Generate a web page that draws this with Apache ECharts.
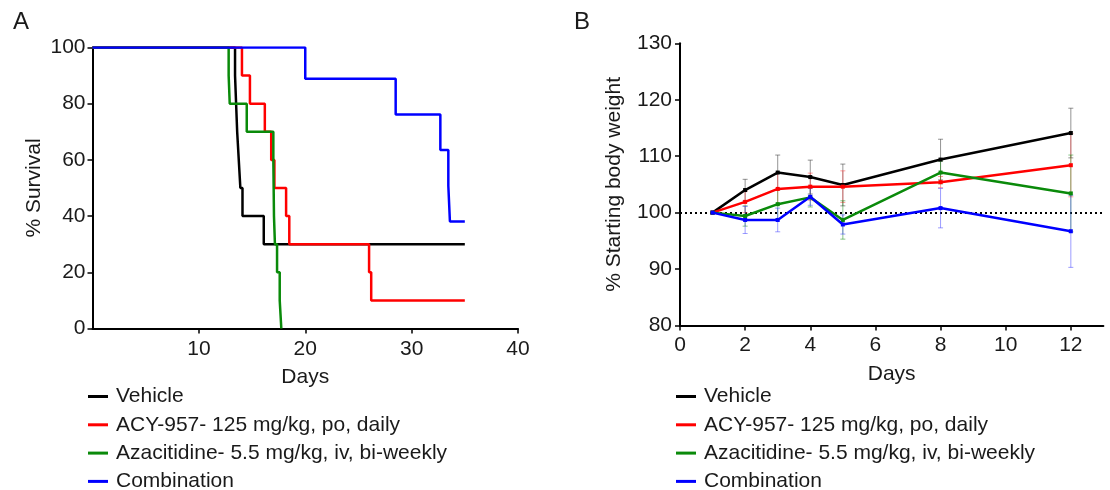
<!DOCTYPE html>
<html>
<head>
<meta charset="utf-8">
<script src="https://cdn.jsdelivr.net/npm/echarts@6/dist/echarts.min.js"></script>
<style>
html,body{margin:0;padding:0;background:#fff;}
#chart{width:1110px;height:490px;}
</style>
</head>
<body>
<div id="chart"></div>
<script>
// ---------- Data ----------
var groupNames = ['Vehicle', 'ACY-957- 125 mg/kg, po, daily', 'Azacitidine- 5.5 mg/kg, iv, bi-weekly', 'Combination'];
var groupColors = ['#000000', '#ff0000', '#0a8a0a', '#0000ff'];
var errColors = ['rgba(60,60,60,0.55)', 'rgba(255,60,60,0.5)', 'rgba(20,140,20,0.5)', 'rgba(60,60,255,0.5)'];

// Panel A: Kaplan-Meier survival [day, % survival]
var survVehicle = [[0,100],[13.4,90],[13.5,80],[13.6,70],[13.75,60],[13.9,50],[14.1,40],[16.1,30],[35,30]];
var survACY = [[0,100],[14.05,90],[14.8,80],[16.2,70],[16.8,60],[17.1,50],[18.2,40],[18.5,30],[26.0,20],[26.2,10],[35,10]];
var survAza = [[0,100],[12.8,90],[12.9,80],[14.5,70],[17.0,60],[17.03,50],[17.06,40],[17.15,30],[17.35,20],[17.6,10],[17.75,0]];
var survCombo = [[0,100],[20.0,88.9],[28.5,76.2],[32.7,63.5],[33.45,50.8],[33.6,38.1],[35,38.1]];
var xTicksA = [10, 20, 30, 40];

// Panel B: % starting body weight (mean, sd)
var weightDays = [1, 2, 3, 4, 5, 8, 12];
var wVehicle = [100, 104.0, 107.1, 106.3, 104.9, 109.4, 114.1];
var sdVehicle = [0, 1.9, 3.1, 3.0, 3.7, 3.6, 4.4];
var wACY = [100, 101.9, 104.2, 104.6, 104.6, 105.4, 108.4];
var sdACY = [0, 1.9, 2.8, 2.4, 2.8, 1.0, 5.6];
var wAza = [100, 99.4, 101.5, 102.7, 98.7, 107.1, 103.4];
var sdAza = [0, 1.8, 2.6, 1.7, 3.4, 2.0, 6.8];
var wCombo = [100, 98.7, 98.7, 102.8, 97.9, 100.8, 96.7];
var sdCombo = [0, 2.4, 2.1, 1.5, 1.7, 3.5, 6.4];
var xTicksB = [0, 2, 4, 6, 8, 10, 12];

// ---------- Build ----------
var survAll = [survVehicle, survACY, survAza, survCombo];
var wAll = [wVehicle, wACY, wAza, wCombo];
var sdAll = [sdVehicle, sdACY, sdAza, sdCombo];

var FONT = '"Liberation Sans", Arial, sans-serif';
var TXT = '#1a1a1a';
var FS = 21;

function axisCommon() {
  return {
    axisLine: { show: true, onZero: false, lineStyle: { color: '#000', width: 2 } },
    axisTick: { show: true, inside: false, length: 5, lineStyle: { color: '#000', width: 1.5 } },
    splitLine: { show: false },
    axisLabel: { color: TXT, fontSize: FS, fontFamily: FONT },
    nameTextStyle: { color: TXT, fontSize: FS, fontFamily: FONT }
  };
}

var series = [];
survAll.forEach(function (d, i) {
  series.push({
    type: 'line', name: groupNames[i], xAxisIndex: 0, yAxisIndex: 0,
    data: d, step: 'end', showSymbol: false, color: groupColors[i],
    lineStyle: { width: 2.5, color: groupColors[i] }, z: 3 + i
  });
});

wAll.forEach(function (w, i) {
  var errData = weightDays.map(function (x, k) { return [x, w[k] - sdAll[i][k], w[k] + sdAll[i][k]]; });
  series.push({
    type: 'custom', xAxisIndex: 1, yAxisIndex: 1, z: 2, silent: true,
    encode: { x: 0, y: [1, 2] },
    data: errData,
    renderItem: (function (col) {
      return function (params, api) {
        var x = api.value(0);
        var top = api.coord([x, api.value(2)]);
        var bot = api.coord([x, api.value(1)]);
        var c = 2.5;
        var st = { stroke: col, lineWidth: 1 };
        return {
          type: 'group', children: [
            { type: 'line', shape: { x1: top[0], y1: top[1], x2: bot[0], y2: bot[1] }, style: st },
            { type: 'line', shape: { x1: top[0] - c, y1: top[1], x2: top[0] + c, y2: top[1] }, style: st },
            { type: 'line', shape: { x1: bot[0] - c, y1: bot[1], x2: bot[0] + c, y2: bot[1] }, style: st }
          ]
        };
      };
    })(errColors[i])
  });
});

wAll.forEach(function (w, i) {
  var s = {
    type: 'line', name: groupNames[i], xAxisIndex: 1, yAxisIndex: 1,
    data: weightDays.map(function (x, k) { return [x, w[k]]; }),
    symbol: 'rect', symbolSize: 4, showSymbol: true, color: groupColors[i],
    itemStyle: { color: groupColors[i] },
    lineStyle: { width: 2.5, color: groupColors[i] }, z: 5 + i
  };
  if (i === 0) {
    s.markLine = {
      silent: true, symbol: 'none', label: { show: false }, z: 1,
      lineStyle: { type: [2, 3], color: '#000', width: 2 },
      data: [{ yAxis: 100 }]
    };
  }
  series.push(s);
});

function legendAt(left) {
  return {
    orient: 'vertical', left: left, top: 381, height: 140, icon: 'rect',
    itemWidth: 20, itemHeight: 3, itemGap: 7.3,
    textStyle: { color: TXT, fontSize: FS, fontFamily: FONT, lineHeight: 21, padding: [0, 0, 0, 3] },
    data: groupNames, selectedMode: false
  };
}

var xA = axisCommon();
Object.assign(xA, {
  type: 'value', gridIndex: 0, min: 0, max: 40, interval: 10,
  name: 'Days', nameLocation: 'middle', nameGap: 38
});
xA.axisLabel = Object.assign({}, xA.axisLabel, { margin: 10, customValues: xTicksA });
xA.axisTick = Object.assign({}, xA.axisTick, { customValues: xTicksA });

var yA = axisCommon();
Object.assign(yA, {
  type: 'value', gridIndex: 0, min: 0, max: 100, interval: 20,
  name: '% Survival', nameLocation: 'middle', nameGap: 48, nameRotate: 90
});
yA.axisLabel = Object.assign({}, yA.axisLabel, { margin: 7 });

var xB = axisCommon();
Object.assign(xB, {
  type: 'value', gridIndex: 1, min: 0, max: 13, interval: 1,
  name: 'Days', nameLocation: 'middle', nameGap: 38
});
xB.axisLabel = Object.assign({}, xB.axisLabel, { margin: 9, customValues: xTicksB });
xB.axisTick = Object.assign({}, xB.axisTick, { customValues: xTicksB });

var yB = axisCommon();
Object.assign(yB, {
  type: 'value', gridIndex: 1, min: 80, max: 130, interval: 10,
  name: '% Starting body weight', nameLocation: 'middle', nameGap: 55, nameRotate: 90
});
yB.axisLabel = Object.assign({}, yB.axisLabel, { margin: 8 });

var option = {
  animation: false,
  backgroundColor: '#fff',
  textStyle: { fontFamily: FONT },
  grid: [
    { left: 92.5, top: 47.5, width: 425.5, height: 281, containLabel: false },
    { left: 680, top: 43.3, width: 423.4, height: 282.2, containLabel: false }
  ],
  xAxis: [xA, xB],
  yAxis: [yA, yB],
  legend: [legendAt(83), legendAt(671)],
  graphic: [
    { type: 'text', left: 13, top: 10, style: { text: 'A', fontSize: 24, fill: TXT, fontFamily: FONT } },
    { type: 'text', left: 574, top: 10, style: { text: 'B', fontSize: 24, fill: TXT, fontFamily: FONT } }
  ],
  series: series
};

var chart = echarts.init(document.getElementById('chart'), null, { renderer: 'canvas' });
chart.setOption(option);
</script>
</body>
</html>
